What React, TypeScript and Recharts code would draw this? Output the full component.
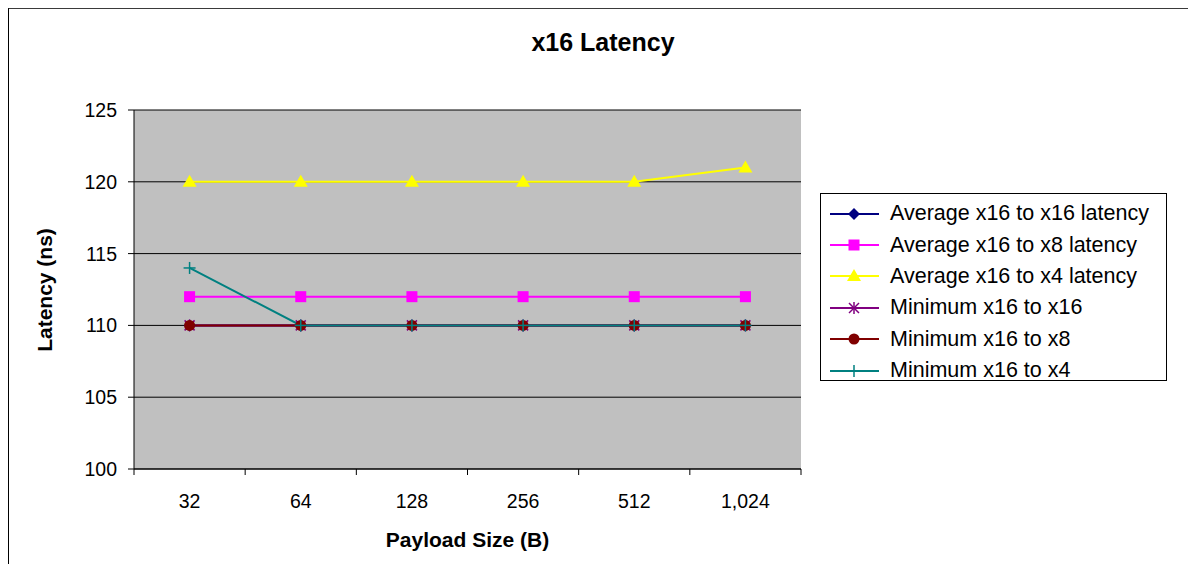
import { LineChart, Line, XAxis, YAxis, CartesianGrid } from "recharts";

const categories = ["32", "64", "128", "256", "512", "1,024"];
const avgX16 = [110, 110, 110, 110, 110, 110];
const avgX8 = [112, 112, 112, 112, 112, 112];
const avgX4 = [120, 120, 120, 120, 120, 121];
const minX16 = [110, 110, 110, 110, 110, 110];
const minX8 = [110, 110, 110, 110, 110, 110];
const minX4 = [114, 110, 110, 110, 110, 110];
const yTicks = [100, 105, 110, 115, 120, 125];

type Shape = "diamond" | "square" | "triangle" | "star" | "circle" | "plus";

const SERIES: { key: string; name: string; color: string; shape: Shape; values: number[] }[] = [
  { key: "avgX16", name: "Average x16 to x16 latency", color: "#000080", shape: "diamond", values: avgX16 },
  { key: "avgX8", name: "Average x16 to x8 latency", color: "#FF00FF", shape: "square", values: avgX8 },
  { key: "avgX4", name: "Average x16 to x4 latency", color: "#FFFF00", shape: "triangle", values: avgX4 },
  { key: "minX16", name: "Minimum x16 to x16", color: "#800080", shape: "star", values: minX16 },
  { key: "minX8", name: "Minimum x16 to x8", color: "#800000", shape: "circle", values: minX8 },
  { key: "minX4", name: "Minimum x16 to x4", color: "#008080", shape: "plus", values: minX4 },
];

const data = categories.map((c, i) => {
  const row: Record<string, string | number> = { size: c };
  SERIES.forEach((s) => (row[s.key] = s.values[i]));
  return row;
});

const FONT = "'Liberation Sans', Arial, sans-serif";
const CHART_W = 1187;
const CHART_H = 555;
const MARGIN = { top: 101, right: 395, left: 65, bottom: 35 };
const BAND = (CHART_W - MARGIN.left - 60 - MARGIN.right) / categories.length;

function Marker({ cx, cy, shape, color }: { cx: number; cy: number; shape: Shape; color: string }) {
  switch (shape) {
    case "diamond":
      return <polygon points={`${cx},${cy - 6} ${cx + 6},${cy} ${cx},${cy + 6} ${cx - 6},${cy}`} fill={color} />;
    case "square":
      return <rect x={cx - 5.5} y={cy - 5.5} width={11} height={11} fill={color} />;
    case "triangle":
      return <polygon points={`${cx},${cy - 7} ${cx + 7},${cy + 5} ${cx - 7},${cy + 5}`} fill={color} />;
    case "star":
      return (
        <g stroke={color} strokeWidth={1.5}>
          <line x1={cx - 5} y1={cy - 5} x2={cx + 5} y2={cy + 5} />
          <line x1={cx - 5} y1={cy + 5} x2={cx + 5} y2={cy - 5} />
          <line x1={cx} y1={cy - 6} x2={cx} y2={cy + 6} />
        </g>
      );
    case "circle":
      return <circle cx={cx} cy={cy} r={5.5} fill={color} />;
    case "plus":
      return (
        <g stroke={color} strokeWidth={1.5}>
          <line x1={cx - 6} y1={cy} x2={cx + 6} y2={cy} />
          <line x1={cx} y1={cy - 6} x2={cx} y2={cy + 6} />
        </g>
      );
  }
}

function XTick(props: any) {
  const { x, y, payload, index } = props;
  const last = index === categories.length - 1;
  return (
    <g>
      <line x1={x - BAND / 2} y1={y} x2={x - BAND / 2} y2={y + 6} stroke="#000" />
      {last && <line x1={x + BAND / 2} y1={y} x2={x + BAND / 2} y2={y + 6} stroke="#000" />}
      <text x={x} y={y + 39} textAnchor="middle" fontSize={19.5} fontFamily={FONT} fill="#000">
        {payload.value}
      </text>
    </g>
  );
}

export default function App() {
  return (
    <div
      style={{
        position: "relative",
        marginTop: -1,
        width: 1187,
        height: 556,
        borderTop: "2px solid #3a3a3a",
        borderLeft: "1px solid #000",
        fontFamily: FONT,
        overflow: "hidden",
      }}
    >
      <LineChart width={CHART_W} height={CHART_H} data={data} margin={MARGIN}>
        <CartesianGrid fill="#C0C0C0" stroke="#000" vertical={false} />
        <XAxis
          dataKey="size"
          scale="band"
          height={60}
          tickLine={false}
          tickSize={0}
          tickMargin={0}
          axisLine={{ stroke: "#000" }}
          tick={<XTick />}
          interval={0}
          label={{
            value: "Payload Size (B)",
            position: "bottom",
            offset: 3,
            style: { fontSize: 21, fontWeight: "bold", fill: "#000", fontFamily: FONT },
          }}
        />
        <YAxis
          width={60}
          domain={[100, 125]}
          ticks={yTicks}
          interval={0}
          tickSize={6}
          tickMargin={11}
          axisLine={{ stroke: "#000" }}
          tickLine={{ stroke: "#000" }}
          tick={{ fontSize: 19.5, fill: "#000", fontFamily: FONT }}
        />
        <YAxis
          yAxisId="frame"
          orientation="right"
          width={0}
          domain={[100, 125]}
          tick={false}
          tickLine={false}
          axisLine={{ stroke: "#808080" }}
        />
        {SERIES.map((s) => (
          <Line
            key={s.key}
            dataKey={s.key}
            name={s.name}
            stroke={s.color}
            strokeWidth={2}
            isAnimationActive={false}
            dot={(p: any) => <Marker key={`${s.key}-${p.index}`} cx={p.cx} cy={p.cy} shape={s.shape} color={s.color} />}
          />
        ))}
      </LineChart>

      <div
        style={{
          position: "absolute",
          left: 444,
          top: 21,
          width: 300,
          textAlign: "center",
          fontSize: 25,
          lineHeight: "25px",
          fontWeight: "bold",
        }}
      >
        x16 Latency
      </div>

      <div
        style={{
          position: "absolute",
          left: 36,
          top: 281,
          transform: "translate(-50%, -50%) rotate(-90deg)",
          whiteSpace: "nowrap",
          fontSize: 21,
          fontWeight: "bold",
        }}
      >
        Latency (ns)
      </div>

      <div
        style={{
          position: "absolute",
          left: 811,
          top: 184,
          width: 347,
          height: 188,
          boxSizing: "border-box",
          border: "1px solid #000",
          background: "#fff",
          paddingTop: 4,
        }}
      >
        {SERIES.map((s) => (
          <div key={s.key} style={{ display: "flex", alignItems: "center", height: 31.4 }}>
            <svg width={69} height={20} style={{ flex: "none" }}>
              <line x1={9} y1={10} x2={58} y2={10} stroke={s.color} strokeWidth={2} />
              <Marker cx={33} cy={10} shape={s.shape} color={s.color} />
            </svg>
            <span style={{ fontSize: 21.5, whiteSpace: "nowrap" }}>{s.name}</span>
          </div>
        ))}
      </div>
    </div>
  );
}
